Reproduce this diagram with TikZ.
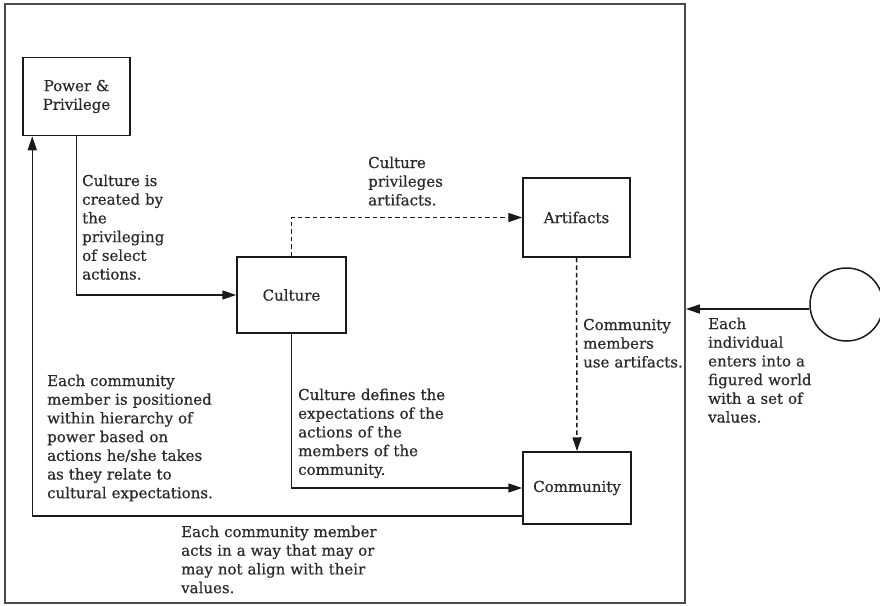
\documentclass[tikz,border=0pt]{standalone}
\usepackage{fontspec}
\setmainfont[FakeBold=0.6]{DejaVu Serif}
\usetikzlibrary{arrows.meta,calc}
\definecolor{txt}{HTML}{2A2A2A}
\definecolor{ln}{HTML}{1A1A1A}
\definecolor{frm}{HTML}{4A4A4A}
\begin{document}
\begin{tikzpicture}[x=1pt,y=-1pt,
  lbl/.style={font=\fontsize{15}{18.7}\selectfont, text=txt, inner sep=0pt, anchor=base west, align=left, text width=230pt},
  box/.style={draw=ln, line width=1.5pt, minimum width=107pt, minimum height=78pt, align=center, font=\fontsize{15}{18.7}\selectfont, text=txt, inner sep=0pt},
  arr/.style={draw=ln, line width=1.5pt, -{Triangle[length=14pt,width=9pt]}},
  dsh/.style={dash pattern=on 4.5pt off 3pt}
]
\useasboundingbox (0,0) rectangle (880,605);
\node[draw=frm, line width=1.6pt, minimum width=680pt, minimum height=599pt, inner sep=0pt] (frame) at (345,303.5) {};

\node[box] (pp) at (76.5,96.5) {Power \&\\Privilege};
\node[box, minimum width=109pt, minimum height=76pt] (cult) at (291.5,295) {Culture};
\node[box, minimum width=107pt, minimum height=79pt] (art) at (576.5,217.5) {Artifacts};
\node[box, minimum width=108pt, minimum height=72pt] (comm) at (577,488) {Community};
\node[draw=ln, line width=1.5pt, circle, minimum size=73pt, inner sep=0pt] (circ) at (846.5,304.5) {};

\draw[arr] (pp.south) |- (cult.west);
\draw[arr,dsh] (cult.north) |- (art.west);
\draw[arr,dsh] (art.south) -- (comm.north);
\draw[arr] (cult.south) |- (comm.west);
\draw[arr] ([yshift=9pt]comm.south west) -| ([xshift=10pt]pp.south west);
\draw[arr] ([yshift=-4.5pt]circ.west) -- ([yshift=-4.5pt]circ.west -| frame.east);

\node[lbl] (t1) at (82,186) {Culture is\\created by\\the\\privileging\\of select\\actions.};
\node[lbl] (t2) at (368,168) {Culture\\privileges\\artifacts.};
\node[lbl] (t3) at (583,330) {Community\\members\\use artifacts.};
\node[lbl] (t4) at (708,329) {Each\\individual\\enters into a\\figured world\\with a set of\\values.};
\node[lbl] (t5) at (47,386) {Each community\\member is positioned\\within hierarchy of\\power based on\\actions he/she takes\\as they relate to\\cultural expectations.};
\node[lbl] (t6) at (298,400) {Culture defines the\\expectations of the\\actions of the\\members of the\\community.};
\node[lbl] (t7) at (181,537) {Each community member\\acts in a way that may or\\may not align with their\\values.};
\end{tikzpicture}
\end{document}
